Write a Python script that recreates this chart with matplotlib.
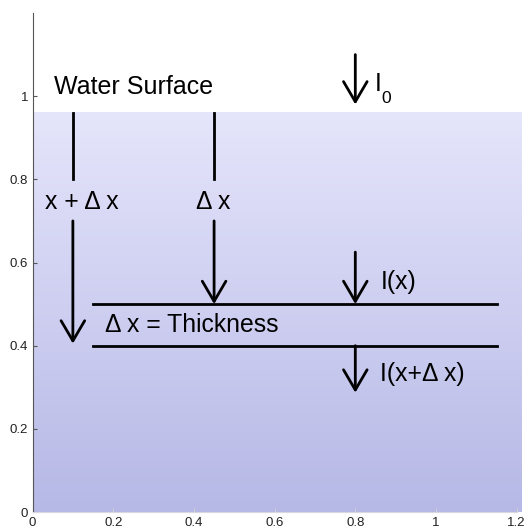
import numpy as np
import matplotlib
matplotlib.use('Agg')
import matplotlib.pyplot as plt
from matplotlib.colors import LinearSegmentedColormap

plt.rcParams['font.family'] = ['Liberation Sans', 'DejaVu Sans']

# water body
water_top = 0.96
water_right = 1.21

# vertical depth markers: x, top segment (start, end), arrow (start, end)
depth_x = [0.1, 0.45]
depth_seg = [(0.96, 0.8), (0.96, 0.8)]
depth_arrow = [(0.70, 0.405), (0.70, 0.5)]
depth_labels = ['x + \u0394 x', '\u0394 x']
depth_label_x = [0.03, 0.405]
depth_label_y = 0.745

# slab boundaries
slab_y = [0.5, 0.4]
slab_x = (0.15, 1.15)

# intensity arrows at x = 0.8
int_x = 0.8
int_arrows = [(1.1, 0.98), (0.625, 0.5), (0.4, 0.287)]
int_labels = ['I(x)', 'I(x+\u0394 x)']
int_label_x = [0.862, 0.862]
int_label_y = [0.554, 0.331]

fig = plt.figure(figsize=(5.28, 5.26), dpi=100)
ax = fig.add_axes([0.0616, 0.0266, 0.917, 0.9487])
ax.set_xlim(0, 1.2)
ax.set_ylim(0, 1.2)

cmap = LinearSegmentedColormap.from_list('water', ['#B6B8E6', '#E5E5FB'])
grad = np.linspace(0, 1, 256).reshape(-1, 1)
ax.imshow(grad, extent=[0, water_right, 0, water_top], origin='lower',
          aspect='auto', cmap=cmap, zorder=0, clip_on=False)

arrow_props = dict(arrowstyle='->, head_length=1.45, head_width=0.85',
                   lw=2, color='black', mutation_scale=10, shrinkA=0, shrinkB=0)

for x, seg, arr, lab, lx in zip(depth_x, depth_seg, depth_arrow, depth_labels, depth_label_x):
    ax.plot([x, x], seg, color='black', lw=2)
    ax.annotate('', xy=(x, arr[1]), xytext=(x, arr[0]), arrowprops=arrow_props)
    ax.text(lx, depth_label_y, lab, fontsize=17.8, ha='left', va='center')

for y in slab_y:
    ax.plot(slab_x, [y, y], color='black', lw=2)

for arr in int_arrows:
    ax.annotate('', xy=(int_x, arr[1]), xytext=(int_x, arr[0]), arrowprops=arrow_props,
                annotation_clip=False)
for lab, lx, ly in zip(int_labels, int_label_x, int_label_y):
    ax.text(lx, ly, lab, fontsize=17.8, ha='left', va='center')

# I_0 with a deep subscript
ax.text(0.849, 1.012, 'I', fontsize=17.8, ha='left', va='baseline')
ax.text(0.864, 0.983, '0', fontsize=12.5, ha='left', va='baseline')

ax.text(0.052, 1.023, 'Water Surface', fontsize=18, ha='left', va='center')
ax.text(0.18, 0.45, '\u0394 x = Thickness', fontsize=17.8, ha='left', va='center')

ax.set_xticks([0, 0.2, 0.4, 0.6, 0.8, 1, 1.2])
ax.set_xticklabels(['0', '0.2', '0.4', '0.6', '0.8', '1', '1.2'])
ax.set_yticks([0, 0.2, 0.4, 0.6, 0.8, 1])
ax.set_yticklabels(['0', '0.2', '0.4', '0.6', '0.8', '1'])
ax.tick_params(direction='in', length=3, labelsize=9.5, labelcolor='#222222', pad=3)
ax.tick_params(axis='y', colors='#555555', labelcolor='#222222')
ax.tick_params(axis='x', colors='#D0D0D8', labelcolor='#222222', pad=3.5)
for s in ['top', 'right']:
    ax.spines[s].set_visible(False)
ax.spines['left'].set_color('#555555')
ax.spines['bottom'].set_color('#D8D8E0')
ax.set_facecolor('none')

fig.savefig('out.png', dpi=100)
